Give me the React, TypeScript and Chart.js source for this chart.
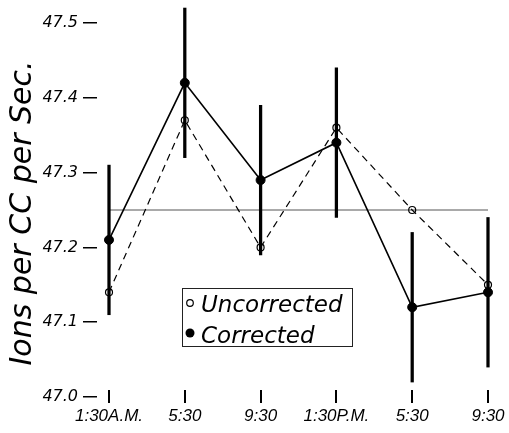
import React, { useEffect, useRef } from 'react';
import { Chart, registerables } from 'chart.js';

Chart.register(...registerables);

const categories = ['1:30A.M.', '5:30', '9:30', '1:30P.M.', '5:30', '9:30'];
const corrected = [47.21, 47.42, 47.29, 47.34, 47.12, 47.14];
const uncorrected = [47.14, 47.37, 47.2, 47.36, 47.25, 47.15];
const errLow = [47.11, 47.32, 47.19, 47.24, 47.02, 47.04];
const errHigh = [47.31, 47.52, 47.39, 47.44, 47.22, 47.24];
const referenceLevel = 47.25;
const yTicks = [47.0, 47.1, 47.2, 47.3, 47.4, 47.5];
const yTickLabels = ['47.0', '47.1', '47.2', '47.3', '47.4', '47.5'];
const yTitle = 'Ions per CC per Sec.';
const legendLabels = ['Uncorrected', 'Corrected'];

const overlayPlugin = {
  id: 'overlay',
  afterDraw(chart: any) {
    const ctx = chart.ctx;
    // x-axis tick marks (straddling the 47.0 level)
    const xs = chart.scales.x;
    const ys = chart.scales.y;
    const base = ys.getPixelForValue(yTicks[0]);
    ctx.save();
    ctx.strokeStyle = '#000';
    ctx.lineWidth = 2;
    categories.forEach((_, i) => {
      const px = Math.round(xs.getPixelForValue(i));
      ctx.beginPath();
      ctx.moveTo(px, base - 7);
      ctx.lineTo(px, base + 6);
      ctx.stroke();
    });
    ctx.restore();

    // y-axis title
    ctx.save();
    ctx.fillStyle = '#000';
    ctx.font = 'italic 30px "DejaVu Sans"';
    ctx.translate(31, 213);
    ctx.rotate(-Math.PI / 2);
    ctx.textAlign = 'center';
    ctx.textBaseline = 'alphabetic';
    ctx.fillText(yTitle, 0, 0);
    ctx.restore();

    // legend box
    ctx.save();
    ctx.strokeStyle = '#222';
    ctx.lineWidth = 1;
    ctx.strokeRect(182.5, 288.5, 170, 58);
    ctx.fillStyle = '#000';
    ctx.strokeStyle = '#000';
    ctx.font = 'italic 23px "DejaVu Sans"';
    ctx.textAlign = 'left';
    ctx.textBaseline = 'alphabetic';
    ctx.beginPath();
    ctx.arc(190, 303, 3.3, 0, Math.PI * 2);
    ctx.lineWidth = 1.2;
    ctx.stroke();
    ctx.fillText(legendLabels[0], 201, 312);
    ctx.beginPath();
    ctx.arc(190, 333, 4.5, 0, Math.PI * 2);
    ctx.fill();
    ctx.fillText(legendLabels[1], 201, 343);
    ctx.restore();
  },
};

export default function App() {
  const ref = useRef<HTMLCanvasElement>(null);
  useEffect(() => {
    if (!ref.current) return;
    const chart = new Chart(ref.current, {
      type: 'line',
      data: {
        datasets: [
          {
            type: 'bar',
            label: 'Error',
            data: categories.map((_, i) => ({ x: i, y: [errLow[i], errHigh[i]] })) as any,
            backgroundColor: '#000',
            borderWidth: 0,
            barThickness: 2.6,
            order: 0,
            clip: false as any,
          } as any,
          {
            label: legendLabels[1],
            data: corrected.map((v, i) => ({ x: i, y: v })),
            borderColor: '#000',
            borderWidth: 1.6,
            pointRadius: 4.5,
            pointBackgroundColor: '#000',
            pointBorderColor: '#000',
            pointBorderWidth: 1,
            tension: 0,
            order: 1,
            clip: false as any,
          },
          {
            label: legendLabels[0],
            data: uncorrected.map((v, i) => ({ x: i, y: v })),
            borderColor: '#000',
            borderWidth: 1.2,
            borderDash: [7, 5],
            pointRadius: 3.5,
            pointBackgroundColor: 'rgba(255,255,255,0)',
            pointBorderColor: '#000',
            pointBorderWidth: 1.2,
            tension: 0,
            order: 2,
          },
          {
            label: 'Reference',
            data: [
              { x: 0, y: referenceLevel },
              { x: categories.length - 1, y: referenceLevel },
            ],
            borderColor: '#555',
            borderWidth: 1,
            pointRadius: 0,
            order: 3,
          },
        ],
      },
      options: {
        animation: false,
        responsive: false,
        devicePixelRatio: 1,
        layout: { padding: { top: 15, right: 9, left: 0, bottom: 0 } },
        plugins: { legend: { display: false }, tooltip: { enabled: false } },
        scales: {
          x: {
            type: 'linear',
            min: -0.1583,
            max: 5.1583,
            offset: false,
            afterBuildTicks: (s: any) => {
              s.ticks = categories.map((_, i) => ({ value: i }));
            },
            afterFit: (s: any) => {
              s.height = 36;
              s.paddingLeft = 0;
              s.paddingRight = 0;
            },
            ticks: {
              callback: (_v: any, i: number) => categories[i],
              font: { family: '"Liberation Sans", sans-serif', style: 'italic', size: 17 },
              color: '#000',
              padding: 9,
              maxRotation: 0,
              autoSkip: false,
            },
            grid: { display: false, drawOnChartArea: false, drawTicks: false, offset: false },
            border: { display: false },
          },
          y: {
            type: 'linear',
            min: 47.0,
            max: 47.5 + 8 / 748,
            afterBuildTicks: (s: any) => {
              s.ticks = yTicks.map((v) => ({ value: v }));
            },
            afterFit: (s: any) => {
              s.width = 97;
              s.paddingTop = 0;
              s.paddingBottom = 0;
            },
            ticks: {
              callback: (_v: any, i: number) => yTickLabels[i],
              font: { family: '"DejaVu Sans"', style: 'italic', size: 16 },
              color: '#000',
              padding: 5,
            },
            grid: { drawOnChartArea: false, drawTicks: true, tickLength: 14, tickColor: '#000', lineWidth: 1.5 },
            border: { display: false },
          },
        },
      } as any,
      plugins: [overlayPlugin],
    });
    return () => chart.destroy();
  }, []);
  return (
    <div style={{ position: 'fixed', left: 0, top: 0, width: 509, height: 433, background: '#fff' }}>
      <canvas ref={ref} width={509} height={433} />
    </div>
  );
}
